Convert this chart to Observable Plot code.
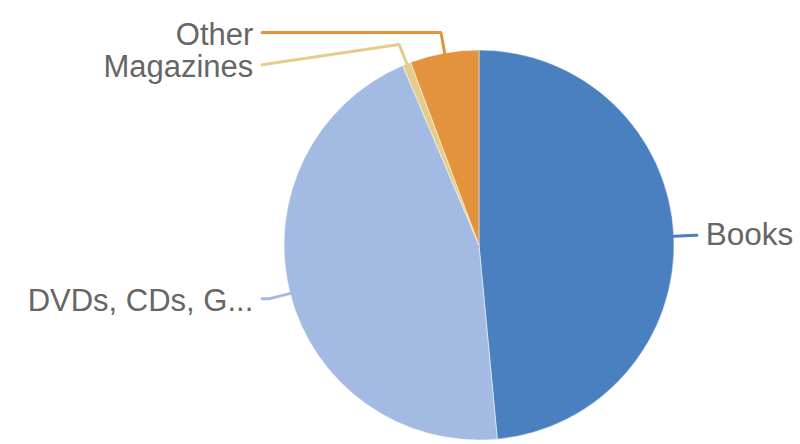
<!DOCTYPE html>
<html><head><meta charset="utf-8">
<script src="https://cdn.jsdelivr.net/npm/d3@7"></script>
<script src="https://cdn.jsdelivr.net/npm/@observablehq/plot@0.6"></script>
<style>html,body{margin:0;padding:0;background:#fff;overflow:hidden}</style>
</head><body><div id="chart"></div>
<script>
const categories = ["Books", "DVDs, CDs, G...", "Magazines", "Other"];
const values = [48.5, 45.1, 0.7, 5.7];
const colors = ["#4a80c0", "#a3bbe3", "#e6cc8c", "#e3933b"];

const data = categories.map((c, i) => ({label: c, value: values[i], color: colors[i]}));
const arcs = d3.pie().sort(null).value(d => d.value)(data);

// label layout (in radius units)
const R_ELBOW = 1.11, X_LINE = 1.115, X_TEXT = 1.16, GAP = 0.165;
const pts = arcs.map(a => {
  const m = (a.startAngle + a.endAngle) / 2;
  return {...a.data, side: Math.sin(m) >= 0 ? 1 : -1,
    sx: Math.sin(m), sy: Math.cos(m),
    ex: R_ELBOW * Math.sin(m), ey: R_ELBOW * Math.cos(m)};
});
for (const side of [1, -1]) {
  const s = pts.filter(p => p.side === side).sort((a, b) => b.ey - a.ey);
  let prev = Infinity;
  for (const p of s) { p.ly = Math.min(p.ey, prev - GAP); prev = p.ly; }
}
const leaders = pts.flatMap(p => [
  {label: p.label, color: p.color, x: p.sx, y: p.sy},
  {label: p.label, color: p.color, x: p.ex, y: p.ey},
  {label: p.label, color: p.color, x: p.side * X_LINE, y: p.ly}
]);

function pieMark(index, scales) {
  const {x, y} = scales;
  const cx = x(0), cy = y(0), r = x(1) - x(0);
  const g = d3.create("svg:g").attr("transform", `translate(${cx},${cy})`);
  const arc = d3.arc().innerRadius(0).outerRadius(r);
  g.selectAll("path").data(arcs).join("path")
    .attr("d", arc)
    .attr("fill", d => d.data.color)
    .attr("stroke", "#ffffff")
    .attr("stroke-opacity", 0.6)
    .attr("stroke-width", 0.8);
  return g.node();
}

const chart = Plot.plot({
  width: 800,
  height: 444,
  x: {domain: [-1, 1], range: [284, 674], axis: null},
  y: {domain: [-1, 1], range: [440, 50], axis: null},
  color: {type: "identity"},
  style: {fontFamily: "'Liberation Sans', Arial, sans-serif", background: "#fff"},
  marks: [
    pieMark,
    Plot.line(leaders, {x: "x", y: "y", z: "label", stroke: "color", strokeWidth: 3, strokeLinejoin: "miter", curve: "linear"}),
    Plot.text(pts.filter(p => p.side > 0), {x: p => X_TEXT, y: "ly", text: "label", textAnchor: "start", fontSize: 31.5, fill: "#666666"}),
    Plot.text(pts.filter(p => p.side < 0), {x: p => -X_TEXT, y: "ly", text: "label", textAnchor: "end", fontSize: 31, dy: 2.5, fill: "#666666"})
  ]
});
document.getElementById("chart").appendChild(chart);
</script>
</body></html>
